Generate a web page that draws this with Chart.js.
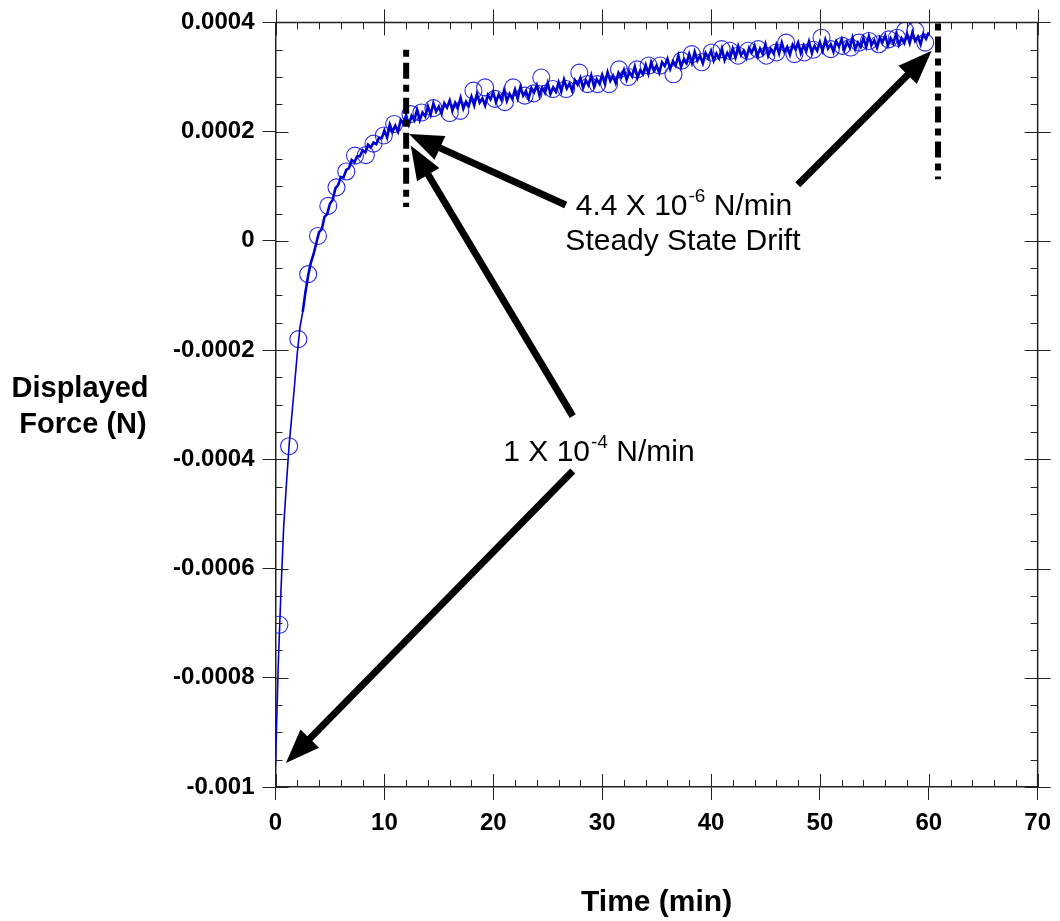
<!DOCTYPE html>
<html><head><meta charset="utf-8">
<script src="https://cdn.jsdelivr.net/npm/chart.js@4.4.0/dist/chart.umd.min.js"></script>
<style>html,body{margin:0;padding:0;background:#fff}canvas{display:block}</style>
</head><body>
<canvas id="c" width="1060" height="921"></canvas>
<script>
// ---- Data (Time in min, Displayed Force in N) ----
const lineTime = [
0,0.25,0.5,0.75,1,1.25,1.5,1.75,2,2.25,2.5,2.75,3,3.25,3.5,3.75,
4,4.25,4.5,4.75,5,5.25,5.5,5.75,6,6.25,6.5,6.75,7,7.25,7.5,7.75,8,8.25,8.5,8.75,9,9.25,9.5,9.75,
10,10.25,10.5,10.75,11,11.25,11.5,11.75,12,12.25,12.5,12.75,13,13.25,13.5,13.75,
14,14.25,14.5,14.75,15,15.25,15.5,15.75,16,16.25,16.5,16.75,17,17.25,17.5,17.75,
18,18.25,18.5,18.75,19,19.25,19.5,19.75,20,20.25,20.5,20.75,21,21.25,21.5,21.75,
22,22.25,22.5,22.75,23,23.25,23.5,23.75,24,24.25,24.5,24.75,25,25.25,25.5,25.75,
26,26.25,26.5,26.75,27,27.25,27.5,27.75,28,28.25,28.5,28.75,29,29.25,29.5,29.75,
30,30.25,30.5,30.75,31,31.25,31.5,31.75,32,32.25,32.5,32.75,33,33.25,33.5,33.75,
34,34.25,34.5,34.75,35,35.25,35.5,35.75,36,36.25,36.5,36.75,37,37.25,37.5,37.75,
38,38.25,38.5,38.75,39,39.25,39.5,39.75,40,40.25,40.5,40.75,41,41.25,41.5,41.75,
42,42.25,42.5,42.75,43,43.25,43.5,43.75,44,44.25,44.5,44.75,45,45.25,45.5,45.75,
46,46.25,46.5,46.75,47,47.25,47.5,47.75,48,48.25,48.5,48.75,49,49.25,49.5,49.75,
50,50.25,50.5,50.75,51,51.25,51.5,51.75,52,52.25,52.5,52.75,53,53.25,53.5,53.75,
54,54.25,54.5,54.75,55,55.25,55.5,55.75,56,56.25,56.5,56.75,57,57.25,57.5,57.75,
58,58.25,58.5,58.75,59,59.25,59.5,59.75,60
];
const lineForce = [
-960e-6,-778e-6,-642e-6,-524e-6,-446e-6,-374e-6,-320e-6,-264e-6,-206e-6,-158e-6,-130e-6,-94e-6,-63e-6,-40e-6,-24e-6,-4e-6,
16e-6,21e-6,44e-6,49e-6,68e-6,75e-6,96e-6,102e-6,117e-6,116e-6,130e-6,133e-6,148e-6,144e-6,155e-6,155e-6,166e-6,162e-6,176e-6,171e-6,180e-6,177e-6,189e-6,188e-6,
202e-6,189e-6,213e-6,200e-6,211e-6,200e-6,221e-6,215e-6,230e-6,213e-6,229e-6,221e-6,240e-6,221e-6,235e-6,228e-6,
246e-6,231e-6,252e-6,237e-6,246e-6,233e-6,252e-6,244e-6,257e-6,239e-6,253e-6,244e-6,262e-6,242e-6,255e-6,247e-6,
264e-6,248e-6,269e-6,253e-6,261e-6,248e-6,267e-6,259e-6,272e-6,254e-6,268e-6,258e-6,276e-6,256e-6,269e-6,260e-6,
277e-6,261e-6,282e-6,266e-6,274e-6,261e-6,280e-6,272e-6,285e-6,266e-6,280e-6,271e-6,289e-6,269e-6,281e-6,273e-6,
290e-6,274e-6,295e-6,279e-6,288e-6,275e-6,294e-6,286e-6,298e-6,280e-6,294e-6,285e-6,303e-6,283e-6,296e-6,288e-6,
304e-6,288e-6,309e-6,293e-6,302e-6,289e-6,308e-6,300e-6,313e-6,295e-6,309e-6,301e-6,319e-6,299e-6,312e-6,305e-6,
322e-6,306e-6,327e-6,312e-6,321e-6,308e-6,327e-6,320e-6,333e-6,315e-6,329e-6,321e-6,339e-6,319e-6,332e-6,325e-6,
342e-6,326e-6,346e-6,330e-6,339e-6,325e-6,344e-6,335e-6,348e-6,330e-6,343e-6,334e-6,352e-6,331e-6,344e-6,335e-6,
352e-6,336e-6,356e-6,340e-6,348e-6,335e-6,353e-6,345e-6,357e-6,338e-6,352e-6,342e-6,360e-6,339e-6,351e-6,343e-6,
359e-6,343e-6,363e-6,346e-6,355e-6,341e-6,359e-6,351e-6,363e-6,344e-6,358e-6,348e-6,365e-6,345e-6,357e-6,348e-6,
364e-6,348e-6,368e-6,352e-6,360e-6,346e-6,365e-6,356e-6,369e-6,350e-6,364e-6,354e-6,372e-6,351e-6,363e-6,355e-6,
371e-6,355e-6,375e-6,359e-6,367e-6,354e-6,372e-6,364e-6,376e-6,358e-6,371e-6,362e-6,379e-6,359e-6,371e-6,362e-6,
379e-6,362e-6,382e-6,366e-6,374e-6,360e-6,379e-6,370e-6,382e-6
];
const markerTime = [0.36,1.25,2.1,3.0,3.9,4.85,5.6,6.5,7.3,8.3,9.0,9.95,10.9,12.4,13.4,14.5,16.0,16.97,18.18,19.25,
20.16,21.07,21.83,22.89,23.7,24.41,25.47,26.69,27.9,28.66,29.57,30.64,31.55,32.4,33.2,34.27,35.33,36.55,37.3,38.24,
39.15,40.06,40.97,41.73,42.49,43.4,44.32,45.08,45.99,46.9,47.66,48.57,49.4,50.15,51.0,52.07,52.83,53.59,54.5,55.41,
56.32,57.08,57.84,58.76,59.67];
const markerForce = [-703e-6,-376e-6,-180e-6,-61e-6,9e-6,64e-6,98e-6,127e-6,156e-6,157e-6,178e-6,193e-6,214e-6,232e-6,235e-6,243e-6,234e-6,238e-6,275e-6,281e-6,
260e-6,254e-6,281e-6,266e-6,270e-6,299e-6,278e-6,278e-6,308e-6,287e-6,287e-6,287e-6,314e-6,300e-6,314e-6,321e-6,321e-6,305e-6,330e-6,342e-6,
327e-6,345e-6,351e-6,348e-6,339e-6,348e-6,351e-6,339e-6,345e-6,363e-6,342e-6,345e-6,350e-6,372e-6,351e-6,357e-6,354e-6,363e-6,366e-6,360e-6,
369e-6,372e-6,385e-6,385e-6,363e-6];

const xTickLabels = ['0','10','20','30','40','50','60','70'];
const yTickLabels = ['-0.001','-0.0008','-0.0006','-0.0004','-0.0002','0','0.0002','0.0004'];

// annotation anchors (data units)
const dropLineX = [12.0, 60.85];
const dropLineTop = [0.00035, 0.000398];
const dropLineBottom = [0.000062, 0.000113];
const arrowTailX = [26.66, 47.97, 27.3, 27.3];
const arrowTailY = [0.0000657, 0.0001027, -0.000321, -0.0004215];
const arrowTipX = [12.26, 60.27, 12.42, 0.957];
const arrowTipY = [0.0001958, 0.000348, 0.0001746, -0.000956];
const noteMain = ['4.4 X 10', '1 X 10'];
const noteSup = ['-6', '-4'];
const noteRest = [' N/min', ' N/min'];
const noteX = [27.58, 20.92];
const noteY = [0.0000474, -0.000403];
const note2Text = 'Steady State Drift';
const note2X = 37.42, note2Y = -0.0000164;
const yTitleLines = ['Displayed', 'Force (N)'];

const FONT = '"Liberation Sans", Arial, Helvetica, sans-serif';

const deco = {
  id: 'deco',
  afterDatasetsDraw(chart) {
    const {ctx, chartArea: a, scales: {x, y}} = chart;
    ctx.save();
    ctx.strokeStyle = '#222';
    ctx.lineWidth = 1.5;
    ctx.beginPath();
    ctx.moveTo(a.left, a.top); ctx.lineTo(a.right, a.top); ctx.lineTo(a.right, a.bottom);
    ctx.stroke();
    ctx.lineWidth = 1;
    ctx.beginPath();
    for (let i = 0; i <= 35; i++) {
      const px = Math.round(x.getPixelForValue(i * 2)) + 0.5;
      const major = i % 5 === 0;
      if (major) {
        ctx.moveTo(px, a.bottom); ctx.lineTo(px, a.bottom - 13);
        ctx.moveTo(px, a.top - 13); ctx.lineTo(px, a.top + 13);
      } else {
        ctx.moveTo(px, a.bottom); ctx.lineTo(px, a.bottom - 7);
        ctx.moveTo(px, a.top); ctx.lineTo(px, a.top + 7);
      }
    }
    for (let i = 0; i <= 28; i++) {
      const py = Math.round(y.getPixelForValue(-0.001 + i * 0.00005)) + 0.5;
      const major = i % 4 === 0;
      if (major) {
        ctx.moveTo(a.left, py); ctx.lineTo(a.left + 13, py);
        ctx.moveTo(a.right - 13, py); ctx.lineTo(a.right + 13, py);
      } else {
        ctx.moveTo(a.left, py); ctx.lineTo(a.left + 7, py);
        ctx.moveTo(a.right, py); ctx.lineTo(a.right - 7, py);
      }
    }
    ctx.stroke();

    // dash-dot vertical lines
    ctx.strokeStyle = '#000';
    ctx.lineWidth = 6;
    ctx.setLineDash([7, 6, 16, 6]);
    for (let i = 0; i < dropLineX.length; i++) {
      const px = x.getPixelForValue(dropLineX[i]);
      ctx.beginPath();
      ctx.moveTo(px, y.getPixelForValue(dropLineTop[i]));
      ctx.lineTo(px, y.getPixelForValue(dropLineBottom[i]));
      ctx.stroke();
    }
    ctx.setLineDash([]);

    // arrows
    ctx.fillStyle = '#000';
    for (let i = 0; i < arrowTailX.length; i++) {
      const x0 = x.getPixelForValue(arrowTailX[i]), y0 = y.getPixelForValue(arrowTailY[i]);
      const x1 = x.getPixelForValue(arrowTipX[i]), y1 = y.getPixelForValue(arrowTipY[i]);
      const dx = x1 - x0, dy = y1 - y0, L = Math.hypot(dx, dy);
      const ux = dx / L, uy = dy / L, hl = 34, hw = 13;
      const bx = x1 - ux * hl, by = y1 - uy * hl;
      ctx.lineWidth = 7;
      ctx.beginPath(); ctx.moveTo(x0, y0); ctx.lineTo(bx + ux * 2, by + uy * 2); ctx.stroke();
      ctx.beginPath();
      ctx.moveTo(x1, y1);
      ctx.lineTo(bx - uy * hw, by + ux * hw);
      ctx.lineTo(bx + uy * hw, by - ux * hw);
      ctx.closePath(); ctx.fill();
    }

    // annotation texts
    ctx.textBaseline = 'alphabetic';
    for (let i = 0; i < noteMain.length; i++) {
      let px = x.getPixelForValue(noteX[i]);
      const py = y.getPixelForValue(noteY[i]);
      ctx.textAlign = 'left';
      ctx.font = '30px ' + FONT;
      ctx.fillText(noteMain[i], px, py);
      px += ctx.measureText(noteMain[i]).width + 1;
      ctx.font = '19px ' + FONT;
      ctx.fillText(noteSup[i], px, py - 13);
      px += ctx.measureText(noteSup[i]).width;
      ctx.font = '30px ' + FONT;
      ctx.fillText(noteRest[i], px, py);
    }
    ctx.textAlign = 'center';
    ctx.font = '30px ' + FONT;
    ctx.fillText(note2Text, x.getPixelForValue(note2X), y.getPixelForValue(note2Y));

    // y-axis title (horizontal)
    ctx.font = 'bold 29px ' + FONT;
    ctx.textAlign = 'center';
    ctx.fillText(yTitleLines[0], 80, 397);
    ctx.fillText(yTitleLines[1], 83, 433);
    ctx.restore();
  }
};

const tickFont = {family: FONT, size: 24, weight: 'bold'};

new Chart(document.getElementById('c'), {
  type: 'line',
  data: {
    datasets: [
      {
        data: lineTime.map((t, i) => ({x: t, y: lineForce[i]})),
        borderColor: '#0000cc', borderWidth: 2.6, pointRadius: 0, tension: 0, fill: false,
        segment: {borderWidth: c => (c.p0.parsed.x < 2.5 ? 1.6 : 2.6)}
      },
      {
        data: markerTime.map((t, i) => ({x: t, y: markerForce[i]})),
        showLine: false, pointStyle: 'circle', pointRadius: 8.5,
        pointBorderColor: '#2a2ae6', pointBorderWidth: 1.1, pointBackgroundColor: 'rgba(0,0,0,0)'
      }
    ]
  },
  options: {
    responsive: false, animation: false, devicePixelRatio: 1,
    layout: {padding: {left: 0, right: 16.5, top: 20, bottom: 0}},
    plugins: {legend: {display: false}, tooltip: {enabled: false}},
    scales: {
      x: {
        type: 'linear', min: 0, max: 70, position: 'bottom',
        ticks: {stepSize: 10, font: tickFont, color: '#000', padding: 9, maxRotation: 0,
          callback: v => xTickLabels.find(l => Math.abs(+l - v) < 1e-6) ?? ''},
        grid: {drawOnChartArea: false, drawTicks: true, tickLength: 13, color: '#222', lineWidth: 1},
        border: {display: true, color: '#222', width: 1.5},
        title: {display: true, text: 'Time (min)', color: '#000',
          font: {family: FONT, size: 30, weight: 'bold'}, padding: {top: 0, bottom: 0}},
        afterFit: s => { s.height = 134; }
      },
      y: {
        type: 'linear', min: -0.001, max: 0.0004,
        ticks: {stepSize: 0.0002, font: tickFont, color: '#000', padding: 8,
          callback: v => yTickLabels.find(l => Math.abs(+l - v) < 1e-9) ?? ''},
        grid: {drawOnChartArea: false, drawTicks: true, tickLength: 13, color: '#222', lineWidth: 1},
        border: {display: true, color: '#222', width: 1.5},
        afterFit: s => { s.width = 275.5; }
      }
    }
  },
  plugins: [deco]
});
</script>
</body></html>
